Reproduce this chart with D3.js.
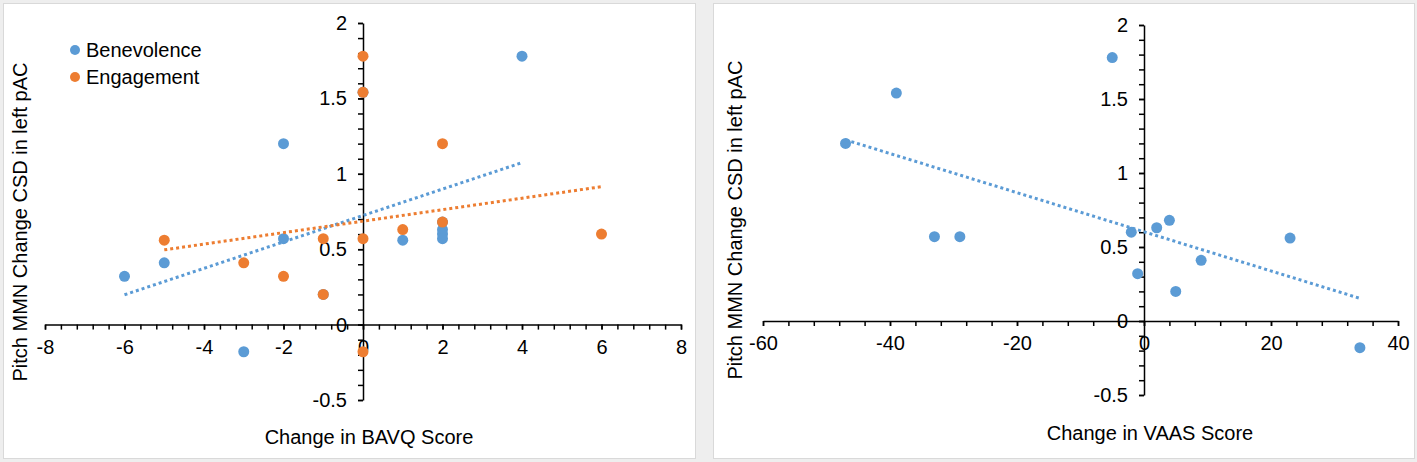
<!DOCTYPE html>
<html>
<head>
<meta charset="utf-8">
<script src="https://cdn.jsdelivr.net/npm/d3@7"></script>
<style>
  body { margin: 0; background: #ffffff; }
  text { font-family: Arial, "Liberation Sans", sans-serif; fill: #000; }
</style>
</head>
<body>
<div id="vis-container"></div>
<script>
// left panel: change in BAVQ score vs pitch MMN change
const benevolenceX = [-6, -5, -3, -2, -2, -1, 0, 1, 2, 2, 2, 2, 4];
const benevolenceY = [0.32, 0.41, -0.18, 1.2, 0.57, 0.2, 1.54, 0.56, 0.63, 0.6, 0.57, 0.68, 1.78];
const engagementX = [-5, -3, -2, -1, -1, 0, 0, 0, 0, 1, 2, 2, 6];
const engagementY = [0.56, 0.41, 0.32, 0.2, 0.57, 1.78, 1.54, 0.57, -0.18, 0.63, 1.2, 0.68, 0.6];

// right panel: change in VAAS score
const vaasX = [-47, -39, -33, -29, -5, -2, -1, 2, 4, 5, 9, 23, 34];
const vaasY = [1.2, 1.54, 0.57, 0.57, 1.78, 0.6, 0.32, 0.63, 0.68, 0.2, 0.41, 0.56, -0.18];

const seriesNames = ["Benevolence", "Engagement"];
const seriesColors = ["#5B9BD5", "#ED7D31"];

const bavqTicks = [-8, -6, -4, -2, 0, 2, 4, 6, 8];
const vaasTicks = [-60, -40, -20, 0, 20, 40];
const yTicks = [-0.5, 0, 0.5, 1, 1.5, 2];

const yTitle = "Pitch MMN Change CSD in left pAC";

let width = 1417;
let height = 462;

let svg = d3.select("#vis-container")
  .append("svg")
  .attr("width", width)
  .attr("height", height);

svg.append("rect")
  .attr("width", width)
  .attr("height", height)
  .attr("fill", "#eeeeee");

// white chart boxes with light border
[[3.5, 3.5, 692, 455], [713.5, 3.5, 701, 455]].forEach(function (b) {
  svg.append("rect")
    .attr("x", b[0]).attr("y", b[1])
    .attr("width", b[2]).attr("height", b[3])
    .attr("fill", "#fff")
    .attr("stroke", "#d9d9d9")
    .attr("stroke-width", 1);
});

// least squares line, same as excel's linear trendline
function trend(xs, ys) {
  let mx = d3.mean(xs), my = d3.mean(ys);
  let sxy = d3.sum(xs, (d, i) => (d - mx) * (ys[i] - my));
  let sxx = d3.sum(xs, d => (d - mx) * (d - mx));
  let slope = sxy / sxx;
  let b = my - slope * mx;
  let x0 = d3.min(xs), x1 = d3.max(xs);
  return [[x0, b + slope * x0], [x1, b + slope * x1]];
}

function drawPanel(p) {
  let x = d3.scaleLinear().domain(p.xDomain).range(p.xRange);
  let y = d3.scaleLinear().domain([-0.5, 2]).range(p.yRange);
  let g = svg.append("g");

  let x0 = x(0), y0 = y(0);

  // minor ticks + axis lines
  let xMinor = d3.range(p.xDomain[0], p.xDomain[1] + p.xMinor / 2, p.xMinor);
  let yMinor = d3.range(-0.5, 2.05, 0.1);

  g.append("g")
    .attr("transform", "translate(0," + y0 + ")")
    .call(d3.axisBottom(x).tickValues(xMinor).tickSize(5).tickSizeOuter(0).tickFormat(""))
    .call(a => a.selectAll("line,path").attr("stroke", "#000").attr("stroke-width", 1.5));

  g.append("g")
    .attr("transform", "translate(" + x0 + ",0)")
    .call(d3.axisLeft(y).tickValues(yMinor).tickSize(5).tickSizeOuter(0).tickFormat(""))
    .call(a => a.selectAll("line,path").attr("stroke", "#000").attr("stroke-width", 1.5));

  // major labels
  g.append("g")
    .attr("transform", "translate(0," + y0 + ")")
    .call(d3.axisBottom(x).tickValues(p.xTicks).tickSize(5).tickPadding(10).tickFormat(d => String(d)))
    .call(a => a.select(".domain").remove())
    .call(a => a.selectAll("line").attr("stroke", "#000").attr("stroke-width", 1.5))
    .call(a => a.selectAll("text").attr("font-size", 20).attr("font-family", "Arial, 'Liberation Sans', sans-serif"));

  g.append("g")
    .attr("transform", "translate(" + x0 + ",0)")
    .call(d3.axisLeft(y).tickValues(yTicks).tickSize(5).tickPadding(11).tickFormat(d => String(d)))
    .call(a => a.select(".domain").remove())
    .call(a => a.selectAll("line").attr("stroke", "#000").attr("stroke-width", 1.5))
    .call(a => a.selectAll("text").attr("font-size", 20).attr("font-family", "Arial, 'Liberation Sans', sans-serif"));

  // points, first series underneath
  p.series.forEach(function (s) {
    g.selectAll(null)
      .data(s.xs)
      .enter()
      .append("circle")
      .attr("cx", d => x(d))
      .attr("cy", (d, i) => y(s.ys[i]))
      .attr("r", 5.5)
      .attr("fill", s.color);
  });

  // dotted trendlines
  p.series.forEach(function (s) {
    g.append("path")
      .datum(trend(s.xs, s.ys))
      .attr("d", d3.line().x(d => x(d[0])).y(d => y(d[1])))
      .attr("fill", "none")
      .attr("stroke", s.color)
      .attr("stroke-width", 3)
      .attr("stroke-dasharray", "3,3");
  });

  g.append("text")
    .attr("x", p.xTitlePos[0])
    .attr("y", p.xTitlePos[1])
    .attr("text-anchor", "middle")
    .attr("font-size", 20)
    .text(p.xTitle);

  g.append("text")
    .attr("transform", "translate(" + p.yTitlePos[0] + "," + p.yTitlePos[1] + ") rotate(-90)")
    .attr("text-anchor", "middle")
    .attr("font-size", 20)
    .text(yTitle);
}

drawPanel({
  xDomain: [-8, 8],
  xRange: [45, 681],
  yRange: [400, 23],
  xMinor: 0.4,
  xTicks: bavqTicks,
  xTitle: "Change in BAVQ Score",
  xTitlePos: [369, 444],
  yTitlePos: [27, 222],
  series: [
    { xs: benevolenceX, ys: benevolenceY, color: seriesColors[0] },
    { xs: engagementX, ys: engagementY, color: seriesColors[1] }
  ]
});

drawPanel({
  xDomain: [-60, 40],
  xRange: [763, 1398],
  yRange: [395, 25],
  xMinor: 4,
  xTicks: vaasTicks,
  xTitle: "Change in VAAS Score",
  xTitlePos: [1150, 440],
  yTitlePos: [742, 220],
  series: [
    { xs: vaasX, ys: vaasY, color: seriesColors[0] }
  ]
});

// legend in the left chart
let legend = svg.append("g").attr("transform", "translate(75,50)");
seriesNames.forEach(function (name, i) {
  legend.append("circle")
    .attr("cx", 0)
    .attr("cy", i * 27)
    .attr("r", 5)
    .attr("fill", seriesColors[i]);
  legend.append("text")
    .attr("x", 11)
    .attr("y", i * 27 + 7)
    .attr("font-size", 20)
    .text(name);
});
</script>
</body>
</html>
